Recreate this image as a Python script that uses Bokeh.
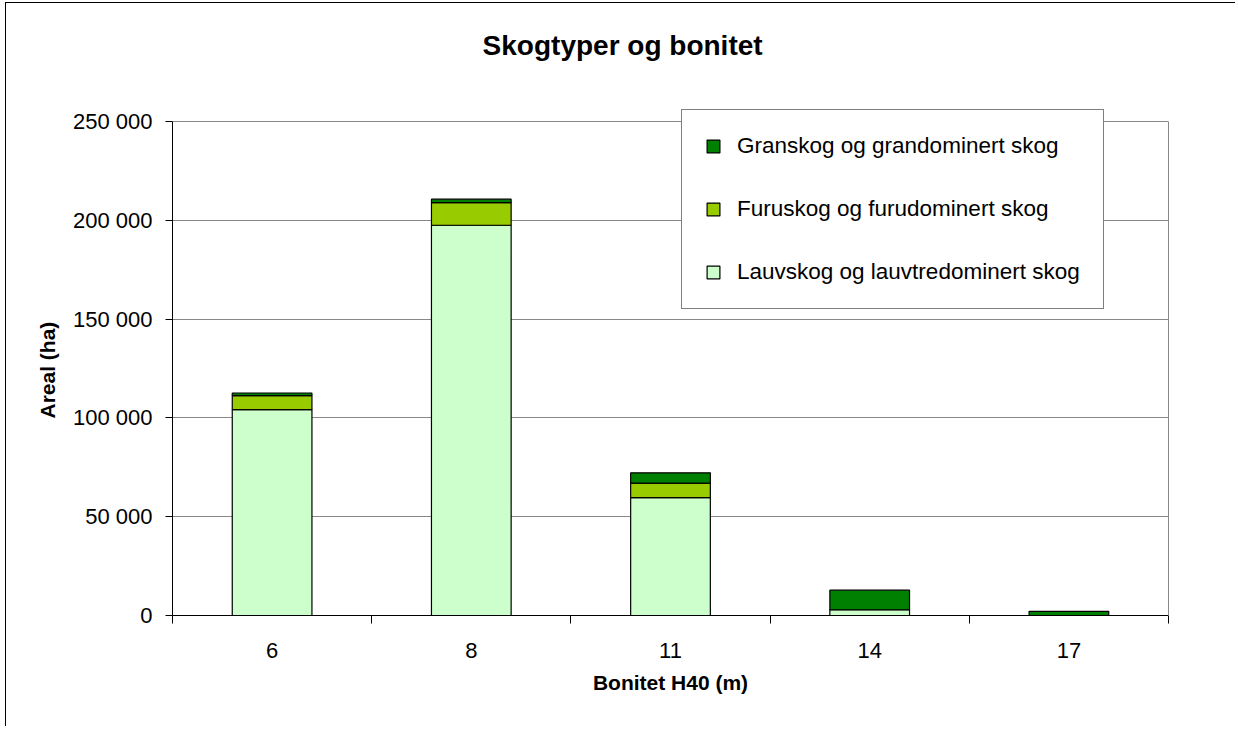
from bokeh.plotting import figure
from bokeh.models import (Range1d, FixedTicker, Legend, LegendItem, Label,
                          LinearAxis, Title, ColumnDataSource)
from bokeh.embed import file_html
from bokeh.resources import INLINE

# ---- data ----
categories = ["6", "8", "11", "14", "17"]
lauv = [104200, 197500, 59700, 2900, 0]
furu = [7100, 11400, 7300, 0, 0]
gran = [1300, 1800, 5200, 9900, 2100]
series_names = ["Lauvskog og lauvtredominert skog",
                "Furuskog og furudominert skog",
                "Granskog og grandominert skog"]
series_colors = ["#CCFFCC", "#99CC00", "#008000"]
y_ticks = [0, 50000, 100000, 150000, 200000, 250000]
y_tick_labels = ["0", "50 000", "100 000", "150 000", "200 000", "250 000"]
title_text = "Skogtyper og  bonitet"
x_title = "Bonitet H40 (m)"
y_title = "Areal (ha)"

FONT = "Liberation Sans"

xs = list(range(len(categories)))
source = ColumnDataSource(dict(x=xs, lauv=lauv, furu=furu, gran=gran))

# the frame reaches the top of the canvas (so title and legend are not clipped);
# the visible plot area (0..250 000) occupies 494 of the 612 frame pixels
y_top = y_ticks[-1] * 612 / 494

p = figure(width=1230, height=724, output_backend="svg", toolbar_location=None,
           x_range=Range1d(-0.5, len(categories) - 0.5),
           y_range=Range1d(y_ticks[0], y_top),
           min_border_left=166, min_border_right=68,
           min_border_top=0, min_border_bottom=112)
p.background_fill_color = "white"
p.border_fill_color = "white"
p.outline_line_color = None
p.styles = {"margin-left": "5px", "margin-top": "2px",
            "border-left": "1px solid black", "border-top": "1px solid black"}

renderers = p.vbar_stack(["lauv", "furu", "gran"], x="x", width=0.4,
                         source=source, fill_color=series_colors,
                         line_color="black", line_width=1.2)

# x axis: labels at category centres, ticks at category boundaries
xax = p.xaxis[0]
xax.ticker = FixedTicker(ticks=xs, minor_ticks=[i - 0.5 for i in range(len(categories) + 1)])
xax.major_label_overrides = {i: c for i, c in zip(xs, categories)}
xax.major_tick_line_color = None
xax.major_tick_out = 8
xax.major_tick_in = 0
xax.minor_tick_line_color = "black"
xax.minor_tick_out = 8
xax.minor_tick_in = 0
xax.major_label_standoff = 19
xax.axis_label = x_title
xax.axis_label_standoff = 10

yax = p.yaxis[0]
yax.ticker = FixedTicker(ticks=y_ticks)
yax.bounds = (y_ticks[0], y_ticks[-1])
yax.major_label_overrides = {t: l for t, l in zip(y_ticks, y_tick_labels)}
yax.major_tick_out = 7
yax.major_tick_in = 0
yax.minor_tick_line_color = None
yax.major_label_standoff = 13

for ax in (xax, yax):
    ax.axis_line_color = "black"
    ax.axis_line_width = 1
    ax.major_tick_line_width = 1
    ax.major_label_text_font = FONT
    ax.major_label_text_font_size = "22px"
    ax.major_label_text_color = "black"
    ax.axis_label_text_font = FONT
    ax.axis_label_text_font_size = "21px"
    ax.axis_label_text_font_style = "bold"
    ax.axis_label_text_color = "black"

# y-axis title, centred on the visible plot area (0..250 000)
ytitle = Title(text=y_title, align="left", offset=197, standoff=21,
               text_font=FONT, text_font_size="21px", text_font_style="bold",
               text_color="black")
p.add_layout(ytitle, "left")

# grey right border of the plot area
rax = LinearAxis(ticker=FixedTicker(ticks=[]), bounds=(y_ticks[0], y_ticks[-1]),
                 axis_line_color="#888888", axis_line_width=1,
                 major_tick_line_color=None, minor_tick_line_color=None,
                 major_label_text_font_size="0px")
p.add_layout(rax, "right")

p.xgrid.grid_line_color = None
p.ygrid.grid_line_color = "#888888"
p.ygrid.grid_line_width = 1

legend = Legend(items=[LegendItem(label=series_names[i], renderers=[renderers[i]])
                       for i in reversed(range(len(renderers)))],
                location=(509, 306), orientation="vertical",
                border_line_color="black", border_line_width=1,
                background_fill_color="white", background_fill_alpha=1,
                label_text_font=FONT, label_text_font_size="22.5px",
                label_text_color="black",
                glyph_width=16, glyph_height=16, label_height=20,
                label_standoff=16, spacing=37, padding=23, margin=0)
p.add_layout(legend, "center")

title = Label(x=454, y=570, x_units="screen", y_units="screen",
              text=title_text, text_font=FONT, text_font_size="28px",
              text_font_style="bold", text_align="center",
              text_baseline="alphabetic", text_color="black")
p.add_layout(title)

open("out.html", "w").write(file_html(p, INLINE))
